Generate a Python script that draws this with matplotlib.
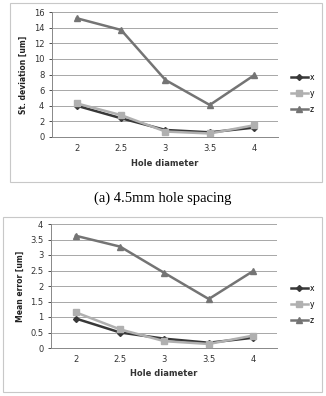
import matplotlib.pyplot as plt
from matplotlib.patches import Rectangle
from matplotlib.lines import Line2D

hole_diameter = [2, 2.5, 3, 3.5, 4]
tick_labels = ["2", "2.5", "3", "3.5", "4"]

# (a) st. deviation
std_x = [4.0, 2.4, 0.9, 0.6, 1.2]
std_y = [4.3, 2.8, 0.7, 0.45, 1.5]
std_z = [15.2, 13.7, 7.3, 4.1, 7.9]

# (b) mean error
mean_x = [0.95, 0.5, 0.3, 0.17, 0.33]
mean_y = [1.15, 0.6, 0.22, 0.13, 0.4]
mean_z = [3.62, 3.27, 2.42, 1.58, 2.48]

W, H = 326, 396
fig = plt.figure(figsize=(W / 100, H / 100), dpi=100)

styles = {
    "x": dict(color="#383838", marker="D", ms=3),
    "y": dict(color="#b0b0b0", marker="s", ms=4.5),
    "z": dict(color="#747474", marker="^", ms=5),
}


def px_axes(x0, y0, x1, y1):
    return fig.add_axes([x0 / W, 1 - y1 / H, (x1 - x0) / W, (y1 - y0) / H])


def panel(ax, xs, ys, zs, ylim, yticks, ylabel):
    for name, vals in zip(["x", "y", "z"], [xs, ys, zs]):
        st = styles[name]
        ax.plot(hole_diameter, vals, color=st["color"], lw=1.8,
                marker=st["marker"], ms=st["ms"], label=name, zorder=3)
    ax.set_xlim(1.72, 4.27)
    ax.set_ylim(*ylim)
    ax.set_yticks(yticks)
    ax.set_yticklabels([("%g" % t) for t in yticks])
    ax.set_xticks(hole_diameter)
    ax.set_xticklabels(tick_labels)
    ax.tick_params(labelsize=6, colors="#333333", length=2, width=0.6)
    ax.tick_params(axis="x", length=0, pad=5)
    ax.grid(axis="y", color="#999999", lw=0.6)
    for s in ["top", "right"]:
        ax.spines[s].set_visible(False)
    for s in ["left", "bottom"]:
        ax.spines[s].set_color("#888888")
        ax.spines[s].set_linewidth(0.7)
    ax.set_xlabel("Hole diameter", fontsize=6, fontweight="bold", color="#333333")
    ax.set_ylabel(ylabel, fontsize=5.5, fontweight="bold", color="#222222")


# frames
fig.patches.append(Rectangle((10 / W, 1 - 182 / H), 312 / W, 179 / H,
                             transform=fig.transFigure, fill=False,
                             ec="#c8c8c8", lw=0.8))
fig.patches.append(Rectangle((3 / W, 1 - 392 / H), 319 / W, 175 / H,
                             transform=fig.transFigure, fill=False,
                             ec="#c8c8c8", lw=0.8))

ax1 = px_axes(52, 12, 278, 137)
panel(ax1, std_x, std_y, std_z, (0, 16), range(0, 17, 2), "St. deviation [um]")
ax1.xaxis.labelpad = 4

ax2 = px_axes(51, 224, 277, 348)
panel(ax2, mean_x, mean_y, mean_z, (0, 4), [0, 0.5, 1, 1.5, 2, 2.5, 3, 3.5, 4],
      "Mean error [um]")
ax2.xaxis.labelpad = 4

handles = [Line2D([], [], color=styles[n]["color"], lw=1.8, marker=styles[n]["marker"],
                  ms=styles[n]["ms"]) for n in ["x", "y", "z"]]
for top in [69, 280]:
    fig.legend(handles, ["x", "y", "z"], loc="upper left",
               bbox_to_anchor=(287 / W, 1 - top / H), frameon=False,
               fontsize=5.5, handlelength=2.2, handletextpad=0.3,
               labelspacing=0.9, borderpad=0)

fig.text(163 / W, 1 - 198 / H, "(a) 4.5mm hole spacing", ha="center", va="center",
         fontsize=10.5, family="Liberation Serif")

plt.savefig("out.png", dpi=100)
